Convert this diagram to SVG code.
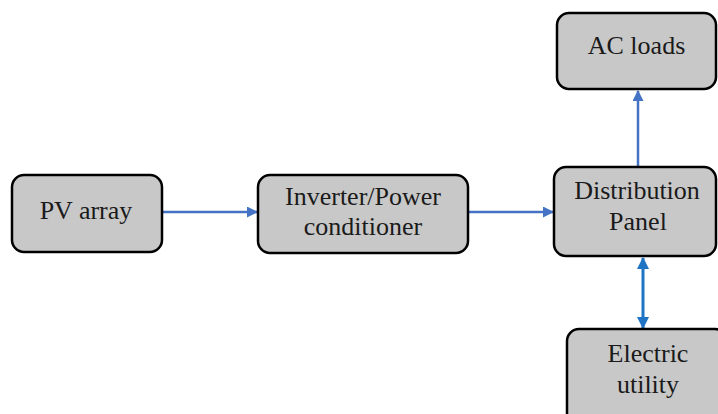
<svg xmlns="http://www.w3.org/2000/svg" width="718" height="414" viewBox="0 0 718 414">
<style>
.box{fill:#c8c8c8;stroke:#000;stroke-width:2.5}
.t{font-family:"Liberation Serif","Times New Roman",serif;font-size:26px;fill:#1a1a1a;text-anchor:middle}
.c1{stroke:#4472c4;stroke-width:2.5;fill:none}
.c2{stroke:#1f74c4;stroke-width:3;fill:none}
</style>
<defs>
<marker id="a1" markerWidth="11" markerHeight="11" refX="10" refY="5.5" orient="auto" markerUnits="userSpaceOnUse"><path d="M0,0 L11,5.5 L0,11 Z" fill="#4472c4"/></marker>
<marker id="a2" markerWidth="12" markerHeight="12" refX="11" refY="6" orient="auto-start-reverse" markerUnits="userSpaceOnUse"><path d="M0,0 L12,6 L0,12 Z" fill="#1f74c4"/></marker>
</defs>
<rect width="718" height="414" fill="#fff"/>
<g id="connectors">
<line class="c1" x1="163" y1="212" x2="257" y2="212" marker-end="url(#a1)"/>
<line class="c1" x1="468" y1="212" x2="553" y2="212" marker-end="url(#a1)"/>
<line class="c1" x1="638" y1="166" x2="638" y2="91" marker-end="url(#a1)"/>
<line class="c2" x1="643" y1="258" x2="643" y2="328" marker-start="url(#a2)" marker-end="url(#a2)"/>
</g>
<g id="pv">
<rect class="box" x="12" y="175" width="150" height="77" rx="12"/>
<text class="t" x="86" y="219">PV array</text>
</g>
<g id="inverter">
<rect class="box" x="258" y="175" width="210" height="78" rx="12"/>
<text class="t" x="363" y="205">Inverter/Power</text>
<text class="t" x="363" y="235">conditioner</text>
</g>
<g id="panel">
<rect class="box" x="554" y="167" width="162" height="89" rx="12"/>
<text class="t" x="637" y="199">Distribution</text>
<text class="t" x="638" y="230">Panel</text>
</g>
<g id="acloads">
<rect class="box" x="557" y="13" width="159" height="76" rx="12"/>
<text class="t" x="636.5" y="54">AC loads</text>
</g>
<g id="utility">
<rect class="box" x="567" y="329" width="160" height="100" rx="12"/>
<text class="t" x="648" y="362">Electric</text>
<text class="t" x="648" y="393">utility</text>
</g>
</svg>
